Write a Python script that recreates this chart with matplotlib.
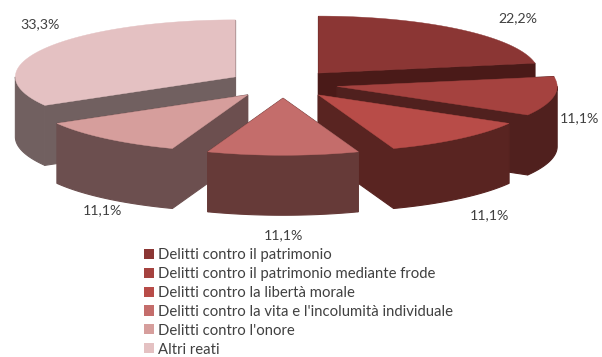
import numpy as np
from matplotlib import pyplot as plt
from matplotlib.patches import Patch, Polygon

categories = ["Delitti contro il patrimonio",
              "Delitti contro il patrimonio mediante frode",
              "Delitti contro la libertà morale",
              "Delitti contro la vita e l'incolumità individuale",
              "Delitti contro l'onore",
              "Altri reati"]
values = [22.2, 11.1, 11.1, 11.1, 11.1, 33.3]
labels = ["22,2%", "11,1%", "11,1%", "11,1%", "11,1%", "33,3%"]

top_colors = ["#8B3634", "#A5423F", "#B84C48", "#C46D6B", "#D69E9C", "#E4C1C2"]
side_colors = ["#4A1A18", "#50201E", "#592421", "#663A38", "#6C4F4F", "#716060"]
label_pos = [(518, 18), (579, 118), (489, 215), (283, 235), (102, 210), (40, 24)]

plt.rcParams['font.family'] = ['Lato', 'DejaVu Sans']

# ellipse of the pie in pixels
cx, cy = 283, 84
rx, ry = 220, 57
depth = 60
explode = 0.25


def point(ang, x0, y0):
    # clockwise from 12 o'clock, y goes down
    return x0 + rx * np.sin(ang), y0 - ry * np.cos(ang)


def arc(a0, a1, x0, y0):
    t = np.linspace(a0, a1, 80)
    return np.column_stack(point(t, x0, y0))


fig = plt.figure(figsize=(6.02, 3.57), dpi=100)
ax = fig.add_axes([0, 0, 1, 1])
ax.set_xlim(0, 602)
ax.set_ylim(357, 0)
ax.axis('off')

fracs = np.array(values) / sum(values)
ends = np.cumsum(fracs) * 2 * np.pi
starts = ends - fracs * 2 * np.pi
mids = (starts + ends) / 2
down = np.array([0, depth])

# back slices first
for i in np.argsort(-np.cos(mids)):
    x0 = cx + explode * rx * np.sin(mids[i])
    y0 = cy - explode * ry * np.cos(mids[i])
    apex = np.array([x0, y0])
    for ang in (starts[i], ends[i]):
        edge = np.array(point(ang, x0, y0))
        face = [apex, edge, edge + down, apex + down]
        ax.add_patch(Polygon(face, fc=side_colors[i], ec=side_colors[i], lw=0.8))
    a0 = max(starts[i], np.pi / 2)
    a1 = min(ends[i], 3 * np.pi / 2)
    if a1 > a0:
        rim = arc(a0, a1, x0, y0)
        rim = np.vstack([rim, rim[::-1] + down])
        ax.add_patch(Polygon(rim, fc=side_colors[i], ec=side_colors[i], lw=0.8))
    top = np.vstack([apex, arc(starts[i], ends[i], x0, y0)])
    ax.add_patch(Polygon(top, fc=top_colors[i], ec=top_colors[i], lw=0.3))

for txt, (x, y) in zip(labels, label_pos):
    ax.text(x, y, txt, ha='center', va='center', fontsize=10.2, color='#404040')

handles = [Patch(fc=c, ec='none') for c in top_colors]
ax.legend(handles, categories, loc='upper left', bbox_to_anchor=(144 / 602, 1 - 248 / 357),
          frameon=False, fontsize=10.7, labelcolor='#404040', handlelength=0.67,
          handleheight=0.67, handletextpad=0.27, labelspacing=0.33,
          borderpad=0, borderaxespad=0)

fig.savefig('out.png', dpi=100)
